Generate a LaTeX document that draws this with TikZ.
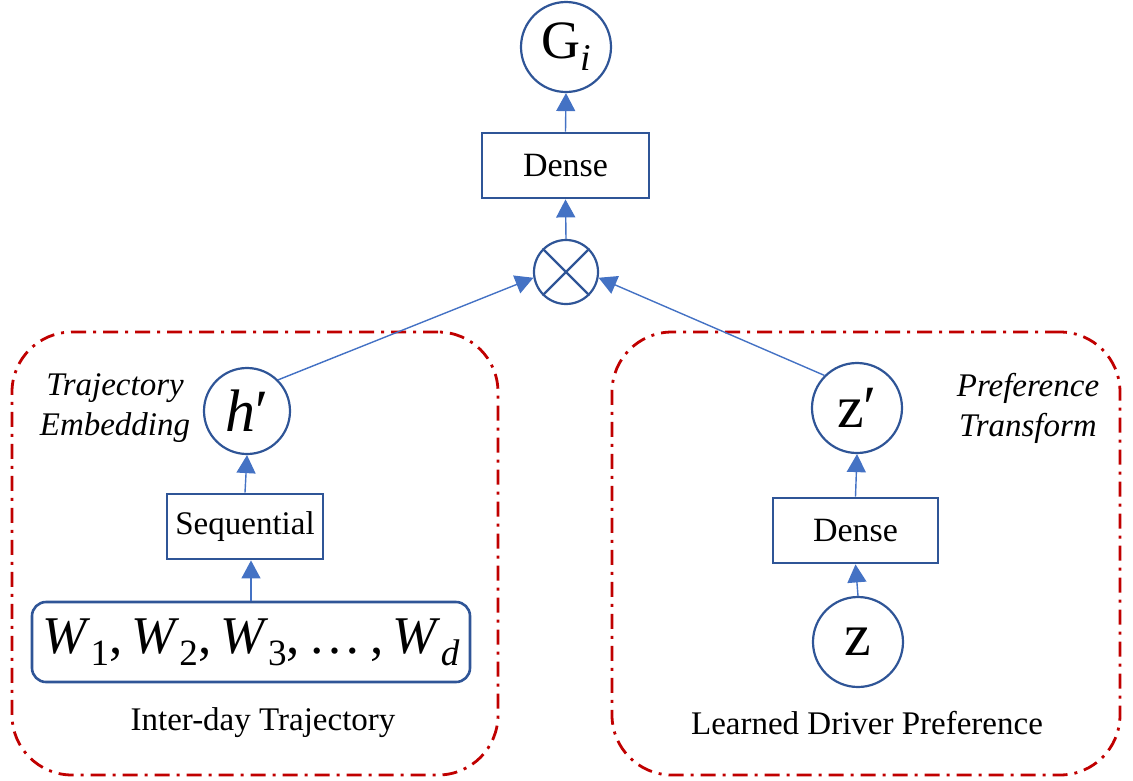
\documentclass[tikz,border=0pt]{standalone}
\usepackage{fontspec}
\setmainfont{Liberation Serif}
\usetikzlibrary{arrows.meta}
\definecolor{nodeblue}{HTML}{2F5597}
\definecolor{arrowblue}{HTML}{4472C4}
\definecolor{groupred}{HTML}{C00000}
% lowered index set at 70% of the running size
\newcommand{\lowidx}[1]{\raisebox{-0.22em}{\fontsize{0.7\dimexpr\fontdimen6\font}{10}\selectfont #1}}
\begin{document}
\begin{tikzpicture}[x=1pt,y=-1pt,
  unit/.style={circle, draw=nodeblue, line width=2.2pt, inner sep=0pt, minimum size=88pt,
    font=\fontsize{54}{60}\selectfont},
  layer/.style={rectangle, draw=nodeblue, line width=2.8pt, inner sep=0pt, minimum height=65pt,
    font=\fontsize{34}{38}\selectfont},
  flow/.style={draw=arrowblue, line width=1.4pt, -{Triangle[length=18pt,width=19pt]}},
  group/.style={draw=groupred, line width=2.8pt, rounded corners=60pt,
    dash pattern=on 15pt off 7pt on 3pt off 7pt, inner sep=0pt},
  note/.style={font=\fontsize{33}{40}\selectfont\itshape, align=center},
  caption/.style={font=\fontsize{33}{38}\selectfont}
]
\useasboundingbox (0,0) rectangle (1133,780);

% dashed group frames
\node[group, minimum width=486pt, minimum height=443pt] (leftgroup) at (255,553.5) {};
\node[group, minimum width=508pt, minimum height=443pt] (rightgroup) at (866,553.5) {};

% output head
\node[unit, minimum size=90pt] (G) at (566,47) {G\lowidx{\itshape i}};
\node[layer, minimum width=167pt] (dense) at (565.5,165.5) {Dense};
\node[circle, draw=nodeblue, line width=2.2pt, minimum size=64pt, inner sep=0pt] (mult) at (566,272) {};
\draw[nodeblue, line width=2.2pt] (mult.north east) -- (mult.south west)
                                  (mult.north west) -- (mult.south east);

% trajectory branch
\node[unit, minimum size=86pt, font=\fontsize{60}{60}\selectfont] (hp) at (247,411) {\textit{h}′};
\node[note] (trajlabel) at (115,408) {Trajectory\\Embedding};
\node[layer, minimum width=156pt, font=\fontsize{33}{38}\selectfont] (seq) at (245,526.5) {Sequential};
\node[rectangle, draw=nodeblue, line width=2.6pt, rounded corners=14pt, inner sep=0pt,
      minimum width=438pt, minimum height=80pt, font=\fontsize{53}{60}\selectfont]
      (W) at (251,642) {\textit{W}\lowidx{1},\,\textit{W}\lowidx{2},\,\textit{W}\lowidx{3},\,\ldots\,,\,\textit{W}\lowidx{\itshape d}};
\node[caption] (trajcap) at (263,723) {Inter-day Trajectory};

% preference branch
\node[unit, minimum size=90pt, font=\fontsize{60}{60}\selectfont] (zp) at (857,408) {z′};
\node[note] (preflabel) at (1028,408) {Preference\\Transform};
\node[layer, minimum width=165pt] (dense2) at (855.5,530.5) {Dense};
\node[unit, minimum size=90pt, font=\fontsize{60}{60}\selectfont] (z) at (858,642) {z};
\node[caption] (prefcap) at (867,723) {Learned Driver Preference};

% connectors
\draw[flow] (W.north) -- (W.north |- seq.south);
\draw[flow] (seq.north) -- (hp.south);
\draw[flow] (z.north) -- (dense2.south);
\draw[flow] (dense2.north) -- (zp.south);
\draw[flow] (hp.north east) -- (mult.190);
\draw[flow] (zp.north west) -- (mult.-10);
\draw[flow] (mult.north) -- (dense.south);
\draw[flow] (dense.north) -- (G.south);
\end{tikzpicture}
\end{document}
